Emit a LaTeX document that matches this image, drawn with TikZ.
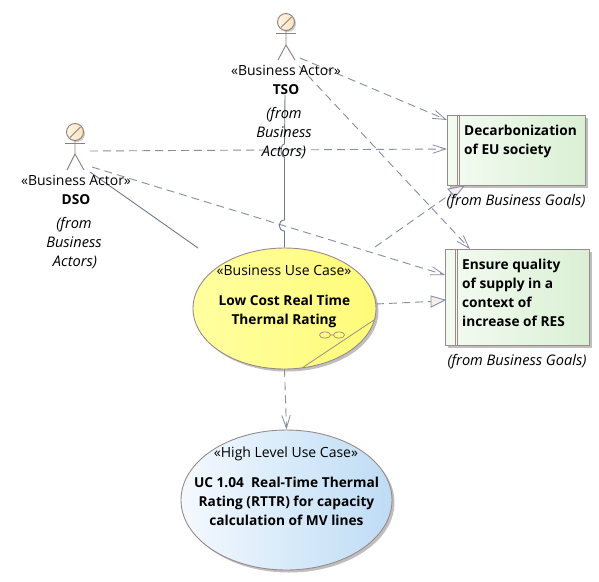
\documentclass[tikz,border=0pt]{standalone}
\usepackage{fontspec}
\setmainfont{Open Sans}
\usetikzlibrary{shapes.geometric,shadows,arrows.meta,calc}
\definecolor{edgeC}{HTML}{6E7890}
\definecolor{dashC}{HTML}{878DA5}
\definecolor{bordC}{HTML}{9A8A8A}
\definecolor{actC}{HTML}{8F7F7F}
\definecolor{triC}{HTML}{F6EEEA}
\definecolor{yelL}{HTML}{FFFFA0}
\definecolor{yelR}{HTML}{FFFB78}
\definecolor{bluL}{HTML}{F4F9FE}
\definecolor{bluR}{HTML}{BEDCF5}
\definecolor{grnL}{HTML}{F4FBF2}
\definecolor{grnR}{HTML}{DAF0D4}
\definecolor{hedL}{HTML}{FFF6E4}
\definecolor{hedR}{HTML}{FBE2BC}
\tikzset{
  x=1pt,y=-1pt,
  lbl/.style={inner sep=0pt,text height=12pt,text depth=2pt,font=\fontsize{14}{16}\selectfont,text=black},
  lblb/.style={inner sep=0pt,text height=12pt,text depth=2pt,font=\fontsize{13.7}{16}\selectfont\bfseries,text=black},
  lbli/.style={inner sep=0pt,text height=12pt,text depth=2pt,font=\fontsize{14.6}{16}\selectfont\itshape,text=black},
  softshadow/.style={drop shadow={shadow xshift=2.5pt,shadow yshift=-2.5pt,fill=black,opacity=0.25}},
  ucell/.style={ellipse,draw=bordC,line width=0.9pt,inner sep=0pt,softshadow},
  goalbox/.style={rectangle,draw=bordC,line width=1pt,inner sep=0pt,softshadow,left color=grnL,right color=grnR},
  assoc/.style={draw=edgeC,line width=0.9pt},
  dep/.style={draw=dashC,line width=0.9pt,dash pattern=on 8pt off 5pt,-{Straight Barb[length=13pt,width=11pt,line width=0.8pt,angle'=36]}},
  real/.style={draw=dashC,line width=0.9pt,dash pattern=on 8pt off 5pt},
  tri/.style={draw=dashC,line width=0.9pt,fill=triC,line join=miter},
  limb/.style={draw=actC,line width=0.9pt},
  actorhead/.style={circle,draw=actC,line width=0.9pt,minimum size=17pt,inner sep=0pt,left color=hedL,right color=hedR,drop shadow={shadow xshift=1.5pt,shadow yshift=-1.5pt,fill=black,opacity=0.2}},
}
\begin{document}
\begin{tikzpicture}
\useasboundingbox (0,0) rectangle (599,581);
\fill[white] (0,0) rectangle (599,581);

% goal boxes
\node[goalbox,minimum width=138pt,minimum height=70pt] (g1) at (516,150) {};
\node[goalbox,minimum width=144pt,minimum height=96pt] (g2) at (517,297) {};
\draw[bordC,line width=0.8pt] (457,115) -- (457,185) (459.5,115) -- (459.5,185);
\draw[bordC,line width=0.8pt] (455,249) -- (455,345) (457.5,249) -- (457.5,345);

% use cases
\node[ucell,minimum width=183pt,minimum height=121pt,left color=yelL,right color=yelR] (uc) at (284.5,308.5) {};
\node[ucell,minimum width=211pt,minimum height=140pt,left color=bluL,right color=bluR] (hl) at (286.5,500) {};

% fold and glasses on the use case
\coordinate (foldA) at (302,368);
\coordinate (foldB) at (374,320);
\draw[bordC,line width=0.8pt] (foldA) -- (foldB);
\draw[bordC,line width=0.7pt] (325,335) ellipse (5.5pt and 3.2pt) (339,335) ellipse (5.5pt and 3.2pt) (330.5,335) -- (333.5,335);

% actors
\node[actorhead] (tsohead) at (286,22) {};
\draw[actC,line width=0.8pt] (281,27.5) -- (291.5,17);
\draw[limb] (276,33) -- (296,33);
\draw[limb] (tsohead.south) -- (286,45) -- (278,60) (286,45) -- (295,60);
\node[actorhead] (dsohead) at (75,132) {};
\draw[actC,line width=0.8pt] (70,137.5) -- (80.5,127);
\draw[limb] (65,143) -- (85,143);
\draw[limb] (dsohead.south) -- (75,154) -- (67,170) (75,154) -- (84,170);

% anchors of connector ends
\coordinate (tsoA) at (285,95);
\coordinate (tsoB) at (300,58);
\coordinate (tsoC) at (299,66);
\coordinate (dsoA) at (90,172);
\coordinate (dsoB) at (90,151);
\coordinate (dsoC) at (92,167);
\coordinate (assocEnd) at (198,248);
\coordinate (g1a) at (447,120);
\coordinate (g1b) at (447,149);
\coordinate (g2a) at (470,249);
\coordinate (g2b) at (445,275);
\coordinate (ucR1) at (375,247);
\coordinate (ucR2) at (376,304);
\coordinate (g1t) at (464,186);
\coordinate (g2t) at (445,300);

% connectors
\draw[dep] (dsoB) -- (g1b);
\draw[dep] (dsoC) -- (g2b);
\draw[dep] (tsoB) -- (g1a);
\draw[dep] (tsoC) -- (g2a);
\draw[assoc] (tsoA) -- (284.5,144) .. controls (280,144) and (280,157) .. (284.5,157) -- (284.5,220) .. controls (277.5,220) and (277.5,231) .. (284.5,231) -- (uc.north);
\draw[assoc] (dsoA) -- (assocEnd);
\draw[real] (ucR1) -- (452,193);
\draw[real] (ucR2) -- (431,301.5);
\draw[dep] (uc.south) -- (hl.north);
\draw[tri] (g1t) -- (448,189) -- (455,197) -- cycle;
\draw[tri] (g2t) -- (431,296) -- (431,307) -- cycle;

% texts
\node[lbl]  (t1) at (286,70)  {«Business Actor»};
\node[lblb] (t2) at (286,89)  {TSO};
\node[lbli] (t3) at (284,113) {(from};
\node[lbli] (t4) at (284,132) {Business};
\node[lbli] (t5) at (284,151) {Actors)};
\node[lbl]  (d1) at (76,180)  {«Business Actor»};
\node[lblb] (d2) at (76,199)  {DSO};
\node[lbli] (d3) at (74,223)  {(from};
\node[lbli] (d4) at (74,242)  {Business};
\node[lbli] (d5) at (75,261)  {Actors)};
\node[lblb,anchor=west] (g1l1) at (464,130) {Decarbonization};
\node[lblb,anchor=west] (g1l2) at (464,149) {of EU society};
\node[lbli] (g1f) at (516,200) {(from Business Goals)};
\node[lblb,anchor=west] (g2l1) at (462,264) {Ensure quality};
\node[lblb,anchor=west] (g2l2) at (462,283) {of supply in a};
\node[lblb,anchor=west] (g2l3) at (462,302) {context of};
\node[lblb,anchor=west] (g2l4) at (462,321) {increase of RES};
\node[lbli] (g2f) at (517,360) {(from Business Goals)};
\node[lbl]  (u1) at (284,270) {«Business Use Case»};
\node[lblb] (u2) at (284.5,300) {Low Cost Real Time};
\node[lblb] (u3) at (284,319) {Thermal Rating};
\node[lbl]  (h1) at (286,452) {«High Level Use Case»};
\node[lblb] (h2) at (286.5,482) {UC 1.04\ \ Real-Time Thermal};
\node[lblb] (h3) at (286.5,501) {Rating (RTTR) for capacity};
\node[lblb] (h4) at (286.5,520) {calculation of MV lines};
\end{tikzpicture}
\end{document}
